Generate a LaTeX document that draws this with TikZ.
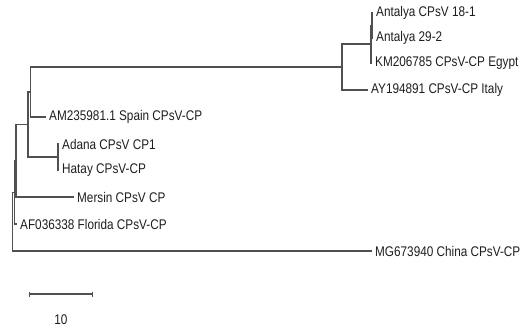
\documentclass[tikz,border=0pt]{standalone}
\usepackage{fontspec}
\setmainfont[FakeStretch=0.84]{Liberation Sans}
\definecolor{Branch}{RGB}{80, 80, 80}
\definecolor{Label}{RGB}{30, 30, 30}
\usetikzlibrary{arrows.meta}

\begin{document}
\begin{tikzpicture}[x=1pt, y=-1pt,
    branch/.style={Branch, line width=1.2pt},
    leaf/.style={anchor=west, inner xsep=3pt, inner ysep=1pt, text=Label,
        font=\fontsize{14}{16}\selectfont}]
    \useasboundingbox (0,0) rectangle (528,332);
    % Internal nodes: x = distance from root, y = midpoint of children
    \coordinate (nG) at (372,25.5);
    \coordinate (nF) at (371,44);
    \coordinate (nE) at (342,67);
    \coordinate (nD) at (30.5,92);
    \coordinate (nAH) at (58,157);
    \coordinate (nC) at (28,124.5);
    \coordinate (nA) at (16,160.75);
    \coordinate (nB) at (14.5,192.4);
    \coordinate (root) at (12.5,221.7);
    % Leaves
    \node[leaf] (ant18) at (373,13) {Antalya CPsV 18-1};
    \node[leaf] (ant29) at (373,38) {Antalya 29-2};
    \node[leaf] (egypt) at (372,63) {KM206785 CPsV-CP Egypt};
    \node[leaf] (italy) at (368,90) {AY194891 CPsV-CP Italy};
    \node[leaf] (spain) at (46,117) {AM235981.1 Spain CPsV-CP};
    \node[leaf] (adana) at (59,144) {Adana CPsV CP1};
    \node[leaf] (hatay) at (59,170) {Hatay CPsV-CP};
    \node[leaf] (mersin) at (74,197) {Mersin CPsV CP};
    \node[leaf] (florida) at (17,224) {AF036338 Florida CPsV-CP};
    \node[leaf] (china) at (372,251) {MG673940 China CPsV-CP};
    % Branches: parent |- child
    \foreach \p/\c in {nG/ant18.west, nG/ant29.west, nF/nG, nF/egypt.west,
                       nE/nF, nE/italy.west, nD/nE, nD/spain.west,
                       nAH/adana.west, nAH/hatay.west, nC/nD, nC/nAH,
                       nA/nC, nA/mersin.west, nB/nA, nB/florida.west,
                       root/nB, root/china.west} {
        \draw[branch] (\p) |- (\c);
    }
    % Scale bar
    \coordinate (sbL) at (29,294);
    \coordinate (sbR) at (93,294);
    \draw[branch, {Bar[width=5pt]}-{Bar[width=5pt]}] (sbL) -- (sbR);
    \node[leaf, anchor=center] (sbText) at (61,320) {10};
\end{tikzpicture}
\end{document}
